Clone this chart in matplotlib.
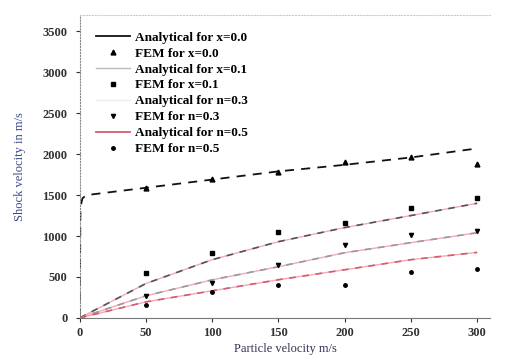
import matplotlib.pyplot as plt
import numpy as np

plt.rcParams.update({'font.family': 'Liberation Serif',
                     'font.size': 9,
                     'font.weight': 'bold'})

# analytical curves (particle velocity -> shock velocity)
x_top = [0, 0.5, 2, 5, 50, 100, 150, 200, 250, 300]
y_top = [0, 1350, 1460, 1500, 1590, 1690, 1790, 1870, 1960, 2070]
x_an = [0, 50, 100, 150, 200, 250, 300]
y_a = [0, 420, 711, 931, 1103, 1250, 1400]
y_b = [0, 270, 465, 625, 796, 919, 1040]
y_c = [0, 196, 331, 466, 588, 711, 800]

# FEM points
x_fem = [50, 100, 150, 200, 250, 300]
f_top = [1593, 1703, 1777, 1900, 1960, 1875]
f_a = [550, 797, 1054, 1164, 1348, 1470]
f_b = [270, 429, 650, 894, 1017, 1066]
f_c = [160, 320, 404, 404, 564, 600]

labels = ["Analytical for x=0.0", "FEM for x=0.0",
          "Analytical for x=0.1", "FEM for x=0.1",
          "Analytical for n=0.3", "FEM for n=0.3",
          "Analytical for n=0.5", "FEM for n=0.5"]

fig = plt.figure(figsize=(5.08, 3.58), dpi=100)
ax = fig.add_axes([0.157, 0.112, 0.808, 0.846])

# pink underlay on the lower curves
for yy in (y_a, y_b, y_c):
    ax.plot(x_an, yy, color='#f2a9b8', lw=1.0, zorder=1)

l1, = ax.plot(x_top, y_top, '--', color='#111111', lw=1.3, dashes=(5, 4))
p1, = ax.plot(x_fem, f_top, '^', color='black', ms=3.5, ls='none')
l2, = ax.plot(x_an, y_a, '--', color='#555555', lw=1.2, dashes=(4, 4))
p2, = ax.plot(x_fem, f_a, 's', color='black', ms=3, ls='none')
l3, = ax.plot(x_an, y_b, '--', color='#999999', lw=1.2, dashes=(4, 4))
p3, = ax.plot(x_fem, f_b, 'v', color='black', ms=3, ls='none')
l4, = ax.plot(x_an, y_c, '--', color='#d65a72', lw=1.2, dashes=(4, 4))
p4, = ax.plot(x_fem, f_c, 'o', color='black', ms=2.5, ls='none')

h_leg = [plt.Line2D([], [], color='#111111', lw=1.3), p1,
         plt.Line2D([], [], color='#bbbbbb', lw=1.0), p2,
         plt.Line2D([], [], color='#eeeeee', lw=1.0), p3,
         plt.Line2D([], [], color='#d65a72', lw=1.3), p4]
ax.legend(h_leg, labels, loc='upper left', frameon=False,
          bbox_to_anchor=(0.01, 0.985), fontsize=9.5,
          labelspacing=0.28, handlelength=2.6, handletextpad=0.4)

ax.set_xlim(0, 310)
ax.set_ylim(0, 3700)
ax.set_xticks([0, 50, 100, 150, 200, 250, 300])
ax.set_yticks([0, 500, 1000, 1500, 2000, 2500, 3000, 3500])
ax.tick_params(colors='#333333', length=3, labelsize=9)
ax.tick_params(axis='y', pad=6)
ax.spines['right'].set_visible(False)
ax.spines['top'].set_linestyle(':')
ax.spines['top'].set_color('#cccccc')
ax.spines['left'].set_linestyle(':')
ax.spines['left'].set_color('#888888')
ax.spines['bottom'].set_color('#777777')

ax.set_xlabel("Particle velocity m/s", color='#333355', labelpad=3)
ax.set_ylabel("Shock velocity in m/s", color='#3a4a8a', labelpad=12)

fig.savefig('out.png', dpi=100)
